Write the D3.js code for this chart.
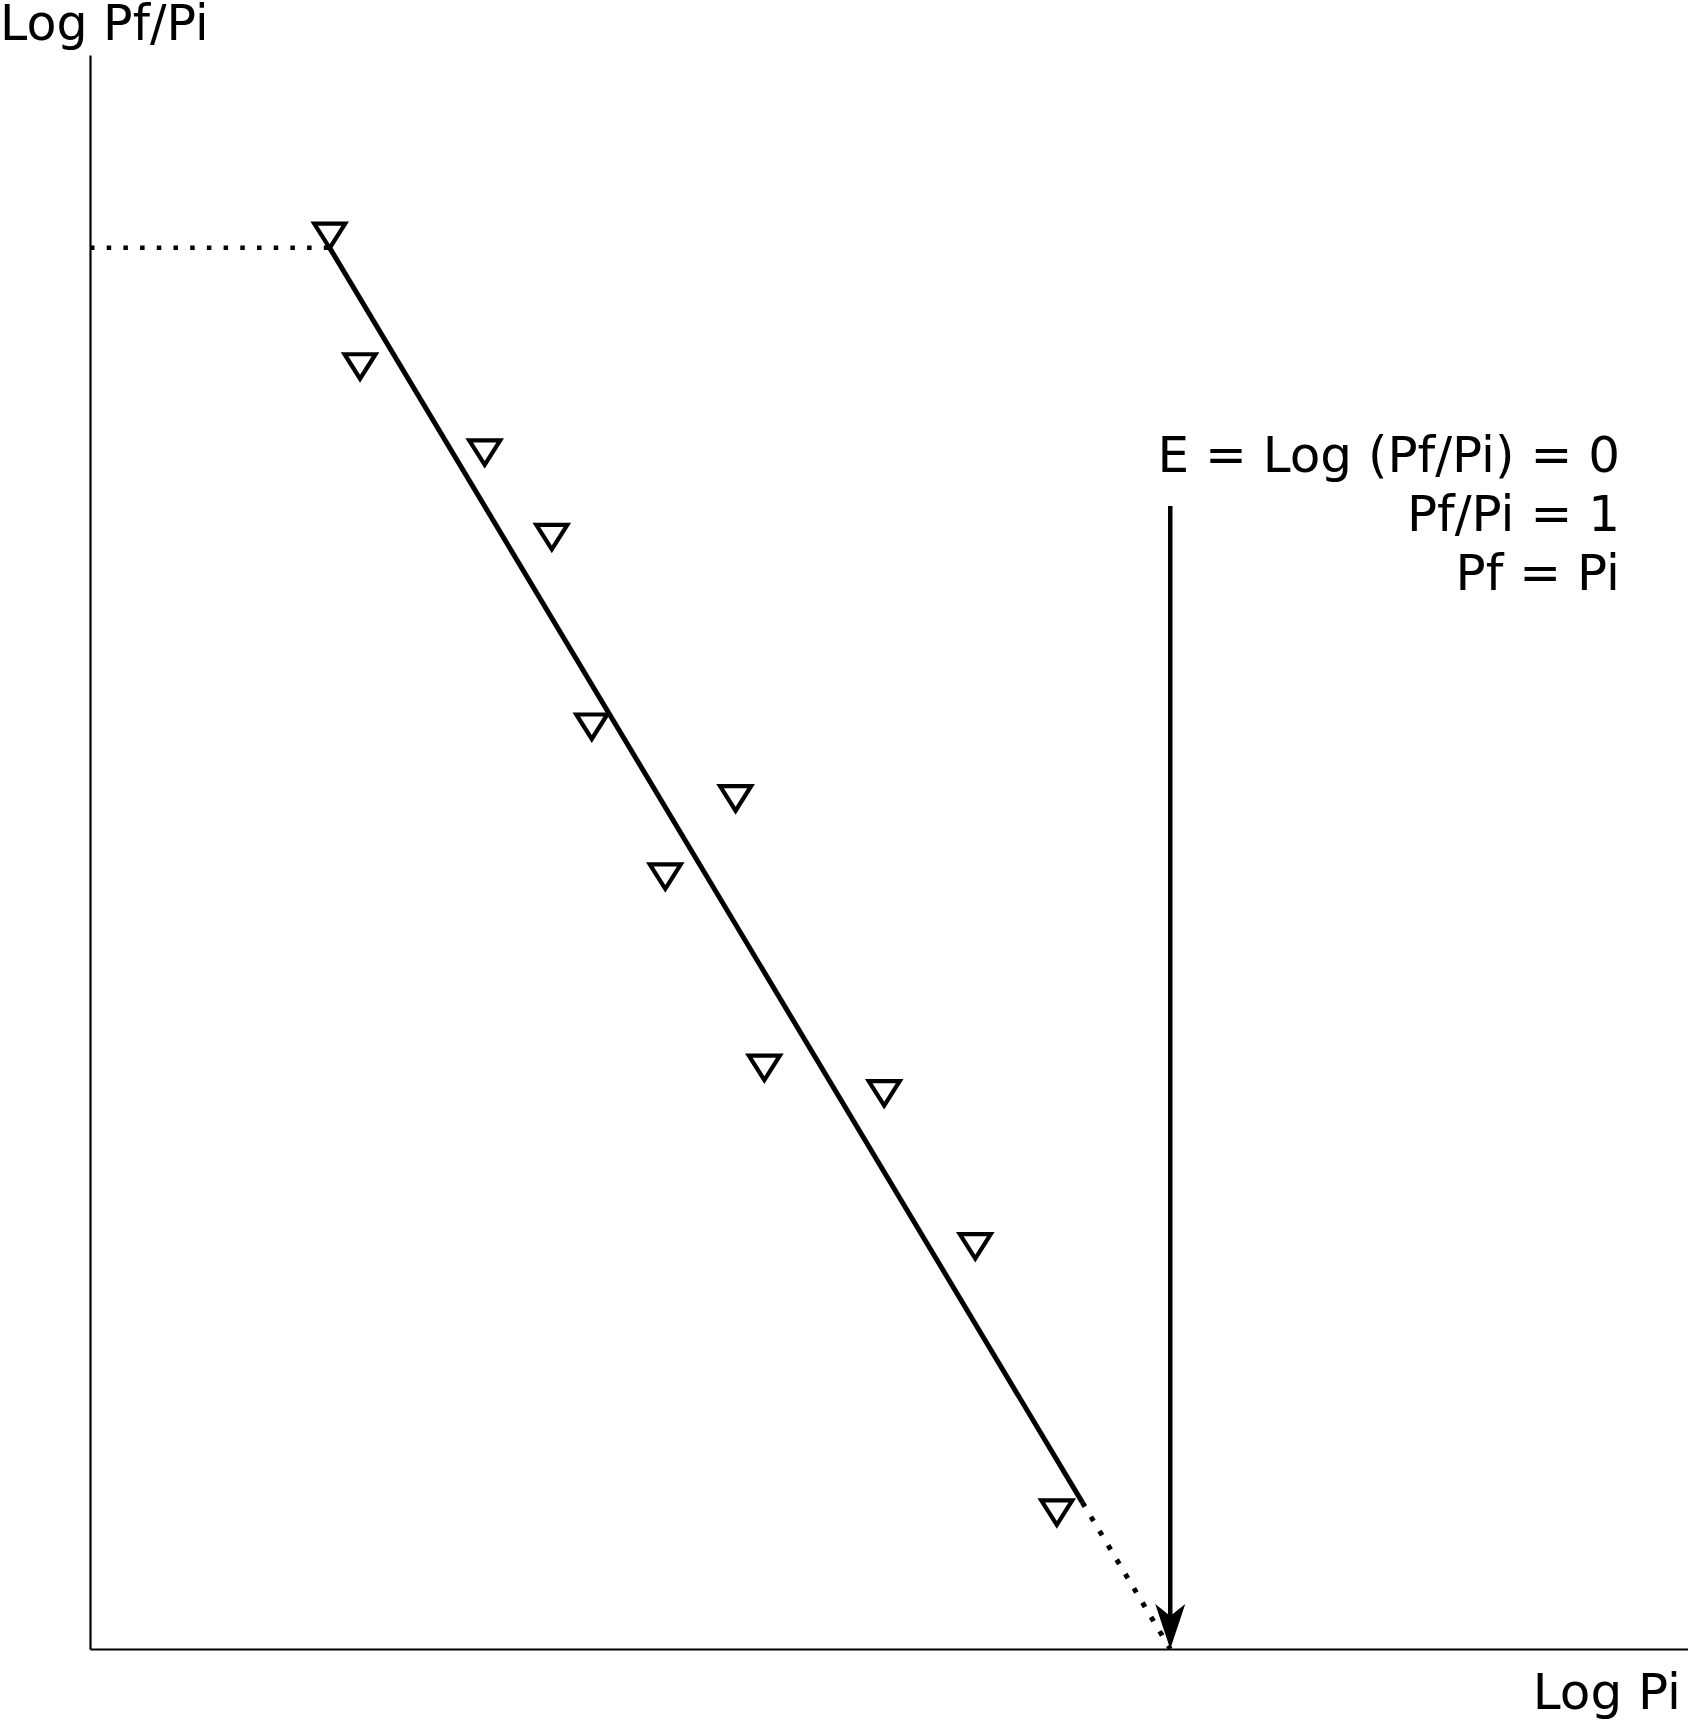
<!DOCTYPE html>
<html>
<head>
<meta charset="utf-8">
<script src="https://cdn.jsdelivr.net/npm/d3@7"></script>
<style>
  html, body { margin: 0; padding: 0; background: #fff; }
  svg { display: block; }
  text { font-family: "DejaVu Sans", sans-serif; fill: #000; }
</style>
</head>
<body>
<svg id="chart" width="1688" height="1722"></svg>
<script>
// ---- data (arbitrary units) ----
const obsLogPi   = [1.50, 1.69, 2.47, 2.89, 3.14, 4.04, 3.60, 4.22, 4.97, 5.54, 6.05];
const obsLogPfPi = [8.88, 8.06, 7.52, 6.99, 5.80, 5.35, 4.86, 3.66, 3.50, 2.54, 0.87];
// fitted line: plateau start, solid end, x-intercept
const fitX = [1.50, 6.21, 6.76];
const fitY = [8.79, 0.92, 0.00];
const arrowX = 6.76, arrowTopY = 7.17;
const axisTitleY = "Log Pf/Pi";
const axisTitleX = "Log Pi";
const noteLines = ["E = Log (Pf/Pi) = 0", "Pf/Pi = 1", "Pf = Pi"];

// ---- scales ----
const svg = d3.select("#chart");
const x = d3.scaleLinear().domain([0, 10]).range([90, 1688]);
const y = d3.scaleLinear().domain([0, 10]).range([1649, 55]);

// axes (lines only, no ticks)
svg.append("g").attr("transform", `translate(${x(0)},0)`)
  .call(d3.axisLeft(y).tickValues([]).tickSizeOuter(0))
  .select(".domain").attr("stroke", "#000").attr("stroke-width", 2.2);
svg.append("g").attr("transform", `translate(0,${y(0)})`)
  .call(d3.axisBottom(x).tickValues([]).tickSizeOuter(0))
  .select(".domain").attr("stroke", "#000").attr("stroke-width", 2.2);

// dotted plateau line from axis to line start
svg.append("line")
  .attr("x1", x(0)).attr("x2", x(fitX[0]))
  .attr("y1", y(fitY[0])).attr("y2", y(fitY[0]))
  .attr("stroke", "#000").attr("stroke-width", 4.5)
  .attr("stroke-dasharray", "4.5,12.2");

// solid fitted line
svg.append("line")
  .attr("x1", x(fitX[0])).attr("y1", y(fitY[0]))
  .attr("x2", x(fitX[1])).attr("y2", y(fitY[1]))
  .attr("stroke", "#000").attr("stroke-width", 5);

// dotted extrapolation
svg.append("line")
  .attr("x1", x(fitX[1])).attr("y1", y(fitY[1]))
  .attr("x2", x(fitX[2])).attr("y2", y(fitY[2]))
  .attr("stroke", "#000").attr("stroke-width", 5)
  .attr("stroke-dasharray", "5,11.7");

// vertical arrow
const ax = x(arrowX), aTop = y(arrowTopY), aTip = y(0);
svg.append("line")
  .attr("x1", ax).attr("x2", ax).attr("y1", aTop).attr("y2", aTip - 30)
  .attr("stroke", "#000").attr("stroke-width", 4.5);
svg.append("path")
  .attr("d", `M${ax},${aTip} L${ax - 15},${aTip - 45} L${ax},${aTip - 33} L${ax + 15},${aTip - 45} Z`)
  .attr("fill", "#000");

// observation markers: downward triangles
const pts = obsLogPi.map((v, i) => [v, obsLogPfPi[i]]);
svg.append("g").selectAll("path").data(pts).join("path")
  .attr("d", d => {
    const cx = x(d[0]), cy = y(d[1]);
    return `M${cx - 15.5},${cy - 10} L${cx + 15.5},${cy - 10} L${cx},${cy + 14.5} Z`;
  })
  .attr("fill", "none").attr("stroke", "#000").attr("stroke-width", 4.2)
  .attr("stroke-linejoin", "miter");

// axis titles
svg.append("text").attr("x", 0).attr("y", 40)
  .attr("font-size", 49).text(axisTitleY);
svg.append("text").attr("x", 1681).attr("y", 1709)
  .attr("text-anchor", "end").attr("font-size", 50).text(axisTitleX);

// annotation
svg.append("g").selectAll("text").data(noteLines).join("text")
  .attr("x", 1620).attr("y", (d, i) => 472 + i * 59)
  .attr("text-anchor", "end").attr("font-size", 50)
  .text(d => d);
</script>
</body>
</html>
